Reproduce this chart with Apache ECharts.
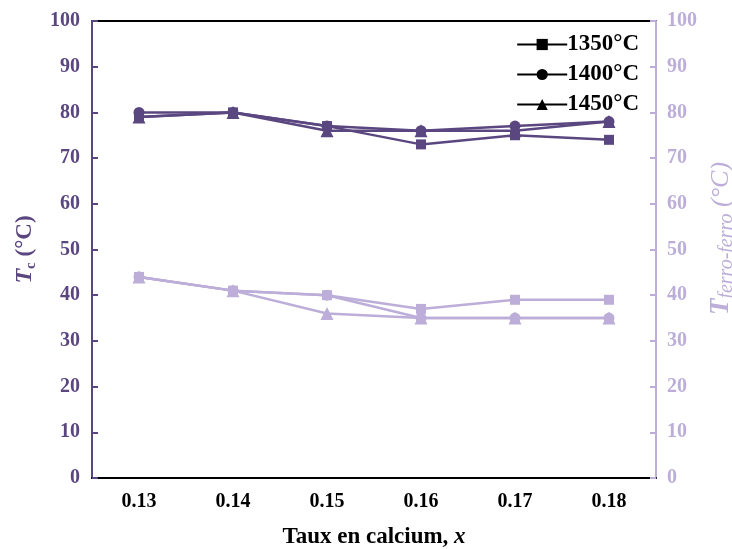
<!DOCTYPE html>
<html><head><meta charset="utf-8">
<script src="https://cdn.jsdelivr.net/npm/echarts@6/dist/echarts.min.js"></script>
<style>html,body{margin:0;padding:0;background:#fff;overflow:hidden}#c{width:732px;height:549px}</style>
</head><body><div id="c"></div>
<script>
const categories = ['0.13','0.14','0.15','0.16','0.17','0.18'];
const seriesNames = ['1350°C','1400°C','1450°C'];
const symbols = ['rect','circle','triangle'];
// Tc (left axis)
const tc1350 = [79, 80, 77, 73, 75, 74];
const tc1400 = [80, 80, 77, 76, 77, 78];
const tc1450 = [79, 80, 76, 76, 76, 78];
// T ferro-ferro (right axis)
const tf1350 = [44, 41, 40, 37, 39, 39];
const tf1400 = [44, 41, 40, 35, 35, 35];
const tf1450 = [44, 41, 36, 35, 35, 35];

const DARK = '#5b4780';
const LIGHT = '#bcaed8';
const FONT = 'Liberation Serif';

const tcData = [tc1350, tc1400, tc1450];
const tfData = [tf1350, tf1400, tf1450];

function mk(name, data, sym, color, yIdx, z) {
  return {
    name: name, type: 'line', data: data, yAxisIndex: yIdx,
    symbol: sym, symbolSize: sym === 'triangle' ? 13 : (sym === 'rect' ? 10 : 11),
    z: z,
    lineStyle: { color: color, width: 2.5 },
    itemStyle: { color: color },
    emphasis: { disabled: true }, animation: false
  };
}
const series = [];
for (let i = 0; i < 3; i++) series.push(mk(seriesNames[i], tfData[i], symbols[i], LIGHT, 1, 2 + i));
for (let i = 0; i < 3; i++) series.push(mk(seriesNames[i], tcData[i], symbols[i], DARK, 0, 5 + i));

const chart = echarts.init(document.getElementById('c'), null, { renderer: 'canvas', width: 732, height: 549 });
chart.setOption({
  animation: false,
  grid: { left: 92, right: 76, top: 21, bottom: 71, outerBoundsMode: 'none', containLabel: false,
          show: true, borderColor: '#000', borderWidth: 2, backgroundColor: 'transparent' },
  legend: {
    orient: 'vertical', right: 88, top: 28, itemWidth: 50, itemHeight: 14, itemGap: 7, align: 'left',
    selectedMode: false,
    textStyle: { fontFamily: FONT, fontWeight: 'bold', fontSize: 23, color: '#000', padding: [0,0,0,-5] },
    data: seriesNames.map(n => ({ name: n, itemStyle: { color: '#000' }, lineStyle: { color: '#000', width: 2 } }))
  },
  xAxis: {
    type: 'category', data: categories, boundaryGap: true,
    axisLine: { lineStyle: { color: '#000', width: 2 } },
    axisTick: { inside: true, alignWithLabel: true, length: 7, lineStyle: { color: '#000', width: 2 } },
    axisLabel: { fontFamily: FONT, fontWeight: 'bold', fontSize: 20, color: '#000', margin: 14 },
    name: '{b|Taux en calcium, }{i|x}', nameLocation: 'middle', nameGap: 48,
    nameTextStyle: { rich: {
      b: { fontFamily: FONT, fontWeight: 'bold', fontSize: 23, color: '#000' },
      i: { fontFamily: FONT, fontWeight: 'bold', fontStyle: 'italic', fontSize: 23, color: '#000' }
    } }
  },
  yAxis: [{
    type: 'value', min: 0, max: 100, interval: 10, position: 'left',
    splitLine: { show: false },
    axisLine: { show: true, lineStyle: { color: DARK, width: 2 } },
    axisTick: { show: true, inside: true, length: 6, lineStyle: { color: DARK, width: 2 } },
    axisLabel: { fontFamily: FONT, fontWeight: 'bold', fontSize: 20, color: DARK, margin: 12 },
    name: '{t|T}{s|c}{n| (°C)}', nameLocation: 'middle', nameGap: 47, nameRotate: 90,
    nameTextStyle: { rich: {
      t: { fontFamily: FONT, fontWeight: 'bold', fontStyle: 'italic', fontSize: 24, color: DARK, lineHeight: 28 },
      s: { fontFamily: FONT, fontWeight: 'bold', fontSize: 15, color: DARK, verticalAlign: 'bottom', lineHeight: 20 },
      n: { fontFamily: FONT, fontWeight: 'bold', fontSize: 23, color: DARK, lineHeight: 28 }
    } }
  }, {
    type: 'value', min: 0, max: 100, interval: 10, position: 'right',
    splitLine: { show: false },
    axisLine: { show: true, lineStyle: { color: LIGHT, width: 2 } },
    axisTick: { show: true, inside: true, length: 6, lineStyle: { color: LIGHT, width: 2 } },
    axisLabel: { fontFamily: FONT, fontWeight: 'bold', fontSize: 20, color: LIGHT, margin: 11 },
    name: '{t|T}{s|ferro-ferro}{n| (°C)}', nameLocation: 'middle', nameGap: 37, nameRotate: 90,
    nameTextStyle: { padding: [0, 0, 0, 22], rich: {
      t: { fontFamily: FONT, fontWeight: 'bold', fontStyle: 'italic', fontSize: 27, color: LIGHT, lineHeight: 30 },
      s: { fontFamily: FONT, fontStyle: 'italic', fontSize: 20, color: LIGHT, verticalAlign: 'bottom', lineHeight: 22 },
      n: { fontFamily: FONT, fontStyle: 'italic', fontSize: 26, color: LIGHT, lineHeight: 30 }
    } }
  }],
  series: series
});
</script></body></html>
